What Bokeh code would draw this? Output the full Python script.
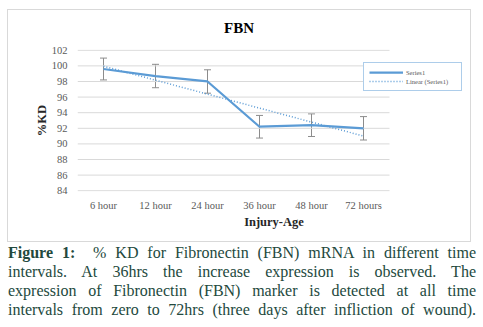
from bokeh.plotting import figure
from bokeh.models import (ColumnDataSource, Range1d, FixedTicker, Whisker,
                          Legend, LegendItem, Div, TeeHead)
from bokeh.layouts import column
from bokeh.embed import file_html
from bokeh.resources import INLINE
import numpy as np

# ---- data ----
title_text = "FBN"
categories = ["6 hour", "12 hour", "24 hour", "36 hour", "48 hour", "72 hours"]
kd_values = [99.6, 98.7, 98.0, 92.2, 92.4, 92.0]
kd_errors = [1.4, 1.5, 1.5, 1.45, 1.45, 1.5]
y_ticks = [84, 86, 88, 90, 92, 94, 96, 98, 100, 102]

caption_lines = [
    "<b>Figure 1:</b>&nbsp; % KD for Fibronectin (FBN) mRNA in different time",
    "intervals. At 36hrs the increase expression is observed. The",
    "expression of Fibronectin (FBN) marker is detected at all time",
    "intervals from zero to 72hrs (three days after infliction of wound).",
]

# category positions (centre of each category slot)
n = len(categories)
xpos = [i + 0.5 for i in range(n)]

# linear trendline (Excel "Linear (Series1)")
xi = np.arange(1, n + 1)
slope, intercept = np.polyfit(xi, kd_values, 1)
trend = list(slope * xi + intercept)

src = ColumnDataSource(dict(
    x=xpos, y=kd_values, trend=trend,
    upper=[v + e for v, e in zip(kd_values, kd_errors)],
    lower=[v - e for v, e in zip(kd_values, kd_errors)],
))

SERIF = "'Liberation Serif'"
BLUE = "#5b9bd5"

title_div = Div(text=f'<div style="font-family:{SERIF};font-size:15px;font-weight:bold;'
                     f'color:#000;width:462px;height:36px;line-height:36px;'
                     f'text-align:center;">{title_text}</div>',
                width=462, height=36, margin=0)

p = figure(x_range=Range1d(0, n * 393 / 312),
           y_range=Range1d(83.9, 102.1),
           width=462, height=195, output_backend="svg", toolbar_location=None,
           min_border_left=69, min_border_right=0, min_border_top=3, min_border_bottom=50,
           margin=0)

p.outline_line_color = None
p.xgrid.grid_line_color = None
p.ygrid.grid_line_color = None

# horizontal gridlines only across the category area
p.segment(x0=0, x1=n, y0=y_ticks, y1=y_ticks, line_color="#d9d9d9", line_width=1)

p.yaxis.ticker = FixedTicker(ticks=y_ticks)
p.xaxis.ticker = FixedTicker(ticks=xpos)
p.xaxis.major_label_overrides = {x: c for x, c in zip(xpos, categories)}
for ax in (p.xaxis[0], p.yaxis[0]):
    ax.axis_line_color = None
    ax.major_tick_line_color = None
    ax.minor_tick_line_color = None
    ax.major_tick_out = 0
    ax.major_tick_in = 0
    ax.minor_tick_out = 0
    ax.minor_tick_in = 0
    ax.major_label_text_font = SERIF
    ax.major_label_text_font_size = "10.5px"
    ax.major_label_text_color = "#595959"
    ax.axis_label_text_font = SERIF
    ax.axis_label_text_font_size = "12.5px"
    ax.axis_label_text_font_style = "bold"
    ax.axis_label_text_color = "#262626"

p.yaxis.axis_label = "%KD"
p.yaxis.major_label_standoff = 10
p.yaxis.axis_label_standoff = 0
p.xaxis.axis_label = "Injury-Age"
p.xaxis.major_label_standoff = 8
p.xaxis.axis_label_standoff = 1

w = Whisker(base="x", upper="upper", lower="lower", source=src,
            line_color="#8c8c8c", line_width=1,
            upper_head=TeeHead(size=7, line_color="#8c8c8c", line_width=1),
            lower_head=TeeHead(size=7, line_color="#8c8c8c", line_width=1))
p.add_layout(w)

r_line = p.line("x", "y", source=src, line_color=BLUE, line_width=2.25)
r_trend = p.line("x", "trend", source=src, line_color=BLUE, line_width=1.5,
                 line_dash="1 2")

legend = Legend(items=[LegendItem(label="Series1", renderers=[r_line]),
                       LegendItem(label="Linear (Series1)", renderers=[r_trend])],
                location=(286, 100), orientation="vertical",
                border_line_color=BLUE, border_line_width=1, background_fill_alpha=1,
                label_text_font=SERIF, label_text_font_size="6.5px",
                label_text_color="#595959", label_height=8, glyph_height=8,
                glyph_width=34, label_width=50, label_standoff=3,
                padding=5, spacing=1, margin=0)
p.add_layout(legend)

chart_box = column(title_div, p, spacing=0, margin=(10, 0, 0, 8),
                   styles={"outline": "1px solid #d9d9d9"})

line_divs = "".join(
    f'<div style="text-align:justify;text-align-last:justify;white-space:nowrap;">{t}</div>'
    for t in caption_lines)
cap = Div(text=f'<div style="font-family:{SERIF};font-size:16px;line-height:19px;'
               f'color:#23493d;width:468px;">{line_divs}</div>',
          width=468, height=80, margin=(2, 0, 0, 8))

layout = column(chart_box, cap, spacing=0)
open("out.html", "w").write(file_html(layout, INLINE))
